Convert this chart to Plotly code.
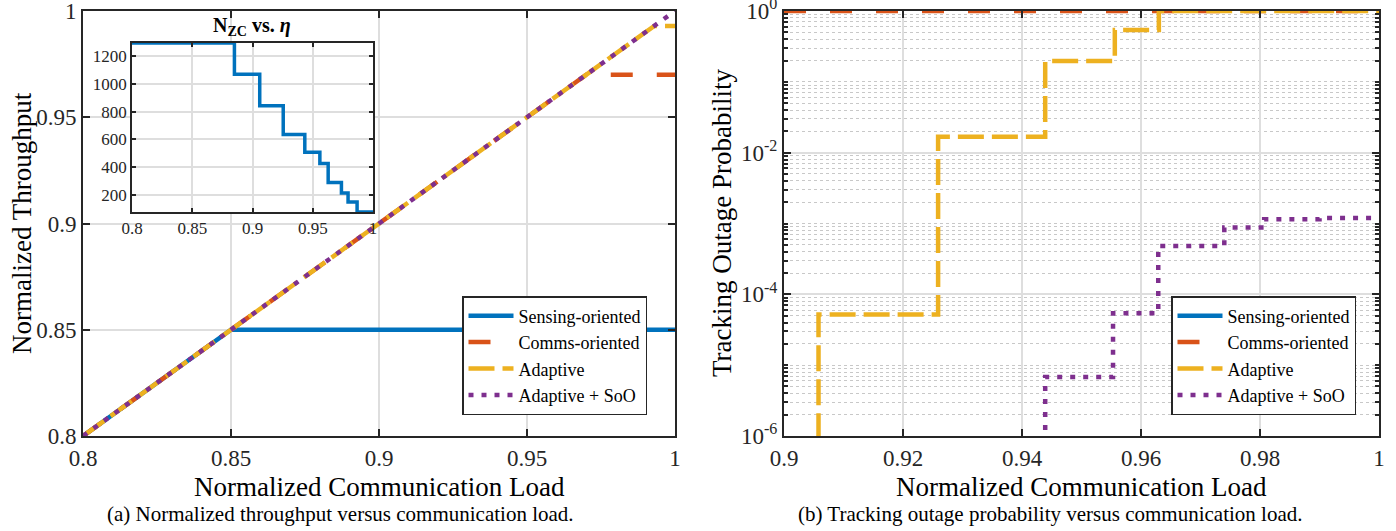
import plotly.graph_objects as go

W, H = 1396, 531
FONT = "Liberation Serif"
BLUE, RED, YEL, PUR = "#0072BD", "#D95319", "#EDB120", "#7E2F8E"
AX = "#262626"
GRID = "#dedede"

# ---------------- (a) Normalized throughput vs communication load ----------------
load_sensing = [0.8, 0.85, 1.0]
thr_sensing = [0.8, 0.85, 0.85]
load_comms = [0.8, 0.97, 1.0]
thr_comms = [0.8, 0.97, 0.97]
load_adapt = [0.8, 0.993, 1.0]
thr_adapt = [0.8, 0.993, 0.993]
load_soo = [0.8, 1.0]
thr_soo = [0.8, 1.0]

# inset: N_ZC vs eta (step)
inset_eta = [0.8, 0.885, 0.906, 0.9255, 0.9434, 0.9559, 0.9628, 0.9738, 0.9793, 0.9868, 1.0]
inset_nzc = [1296, 1070, 843, 634, 506, 424, 287, 212, 147, 74, 74]

# ---------------- (b) Tracking outage probability vs communication load ----------------
out_load_sensing = [0.9, 1.0]
out_sensing = [0.0, 0.0]
out_load_comms = [0.9, 1.0]
out_comms = [1.0, 1.0]
out_load_adapt = [0.9, 0.9058, 0.9259, 0.9439, 0.9556, 0.963, 1.0]
out_adapt = [1e-7, 5.2e-5, 0.0168, 0.197, 0.54, 1.0, 1.0]
out_load_soo = [0.9, 0.9439, 0.9553, 0.9629, 0.974, 0.9807, 0.99, 1.0]
out_soo = [1e-7, 6.8e-6, 5.4e-5, 4.8e-4, 8.8e-4, 1.15e-3, 1.2e-3, 1.2e-3]

names = ["Sensing-oriented", "Comms-oriented", "Adaptive", "Adaptive + SoO"]
colors = [BLUE, RED, YEL, PUR]
dashes = ["solid", "22px,24px", "26px,8px", "5px,8px"]
LW = 4.5

xtick_a = [0.8, 0.85, 0.9, 0.95, 1.0]
xtick_a_txt = ["0.8", "0.85", "0.9", "0.95", "1"]
ytick_a = [0.8, 0.85, 0.9, 0.95, 1.0]
ytick_a_txt = ["0.8", "0.85", "0.9", "0.95", "1"]
xtick_b = [0.9, 0.92, 0.94, 0.96, 0.98, 1.0]
xtick_b_txt = ["0.9", "0.92", "0.94", "0.96", "0.98", "1"]
ytick_b = [1e-6, 1e-4, 1e-2, 1.0]
ytick_b_txt = ["10<sup>-6</sup>", "10<sup>-4</sup>", "10<sup>-2</sup>", "10<sup>0</sup>"]
inset_xt = [0.8, 0.85, 0.9, 0.95, 1.0]
inset_xt_txt = ["0.8", "0.85", "0.9", "0.95", "1"]
inset_yt = [200, 400, 600, 800, 1000, 1200]

fig = go.Figure()

left_sets = [(load_sensing, thr_sensing), (load_comms, thr_comms),
             (load_adapt, thr_adapt), (load_soo, thr_soo)]
for (x, y), n, c, d in zip(left_sets, names, colors, dashes):
    fig.add_trace(go.Scatter(x=x, y=y, mode="lines", name=n, legend="legend",
                             line=dict(color=c, width=LW, dash=d),
                             xaxis="x", yaxis="y"))

right_sets = [(out_load_sensing, out_sensing), (out_load_comms, out_comms),
              (out_load_adapt, out_adapt), (out_load_soo, out_soo)]
for (x, y), n, c, d in zip(right_sets, names, colors, dashes):
    fig.add_trace(go.Scatter(x=x, y=y, mode="lines", name=n, legend="legend2",
                             line=dict(color=c, width=LW, dash=d, shape="hv"),
                             xaxis="x2", yaxis="y2"))

fig.add_trace(go.Scatter(x=inset_eta, y=inset_nzc, mode="lines", showlegend=False,
                         line=dict(color=BLUE, width=3.5, shape="hv"),
                         xaxis="x3", yaxis="y3"))


def ax(domain, **kw):
    d = dict(domain=domain, showline=True, linecolor=AX, linewidth=2, mirror="ticks",
             ticks="inside", ticklen=7, tickwidth=1.5, tickcolor=AX,
             showgrid=True, gridcolor=GRID, gridwidth=1.5, zeroline=False,
             ticklabeloverflow="allow", automargin=False,
             tickfont=dict(family=FONT, size=23, color=AX))
    d.update(kw)
    return d


ybot, ytop = 1 - 436 / H, 1 - 11 / H
fig.update_layout(
    width=W, height=H,
    margin=dict(l=0, r=0, t=0, b=0, autoexpand=False),
    paper_bgcolor="white", plot_bgcolor="white",
    font=dict(family=FONT, color=AX),
    xaxis=ax([83 / W, 675 / W], anchor="y", range=[0.8, 1.0],
             tickmode="array", tickvals=xtick_a, ticktext=xtick_a_txt),
    yaxis=ax([ybot, ytop], anchor="x", range=[0.8, 1.0],
             tickmode="array", tickvals=ytick_a, ticktext=ytick_a_txt),
    xaxis2=ax([784 / W, 1379 / W], anchor="y2", range=[0.9, 1.0],
              tickmode="array", tickvals=xtick_b, ticktext=xtick_b_txt),
    yaxis2=ax([ybot, ytop], anchor="x2", type="log", range=[-6, 0],
              tickmode="array", tickvals=ytick_b, ticktext=ytick_b_txt,
              minor=dict(tickmode="array",
                         tickvals=[k * 10.0 ** e for e in range(-6, 0) for k in range(2, 10)]
                         + [10.0 ** e for e in (-5, -3, -1)],
                         ticks="inside", ticklen=4, tickcolor=AX,
                         showgrid=True, gridcolor="#c8c8c8", gridwidth=1, griddash="dot")),
    xaxis3=ax([132 / W, 373 / W], anchor="y3", range=[0.8, 1.0], ticklen=4,
              tickmode="array", tickvals=inset_xt, ticktext=inset_xt_txt,
              linewidth=1.5, tickfont=dict(family=FONT, size=17, color=AX)),
    yaxis3=ax([1 - 212 / H, 1 - 43 / H], anchor="x3", range=[74, 1296], ticklen=4,
              tickmode="array", tickvals=inset_yt,
              linewidth=1.5, tickfont=dict(family=FONT, size=17, color=AX)),
    legend=dict(x=647 / W, y=1 - 415 / H, xanchor="right", yanchor="bottom",
                bgcolor="white", bordercolor=AX, borderwidth=1.5, itemwidth=45,
                font=dict(family=FONT, size=18, color="black"), tracegroupgap=0),
    legend2=dict(x=1356 / W, y=1 - 415 / H, xanchor="right", yanchor="bottom",
                 bgcolor="white", bordercolor=AX, borderwidth=1.5, itemwidth=45,
                 font=dict(family=FONT, size=18, color="black"), tracegroupgap=0),
)

ann = [
    dict(text="Normalized Communication Load", x=379 / W, y=1 - 487 / H, size=27),
    dict(text="Normalized Communication Load", x=1081 / W, y=1 - 487 / H, size=27),
    dict(text="Normalized Throughput", x=22 / W, y=1 - 223 / H, size=27, angle=-90),
    dict(text="Tracking Outage Probability", x=722 / W, y=1 - 223 / H, size=27, angle=-90),
    dict(text="(a) Normalized throughput versus communication load.", x=340 / W, y=1 - 514 / H, size=21),
    dict(text="(b) Tracking outage probability versus communication load.", x=1050 / W, y=1 - 514 / H, size=21),
    dict(text="<b>N<sub>ZC</sub> vs. <i>η</i></b>", x=252 / W, y=1 - 27 / H, size=20),
]
for a in ann:
    fig.add_annotation(text=a["text"], x=a["x"], y=a["y"], xref="paper", yref="paper",
                       xanchor="center", yanchor="middle", showarrow=False,
                       textangle=a.get("angle", 0),
                       font=dict(family=FONT, size=a["size"], color="black"))

fig.write_html("out.html", config={"displayModeBar": False},
               post_script="document.body.style.margin='0';document.body.style.overflow='hidden';")
